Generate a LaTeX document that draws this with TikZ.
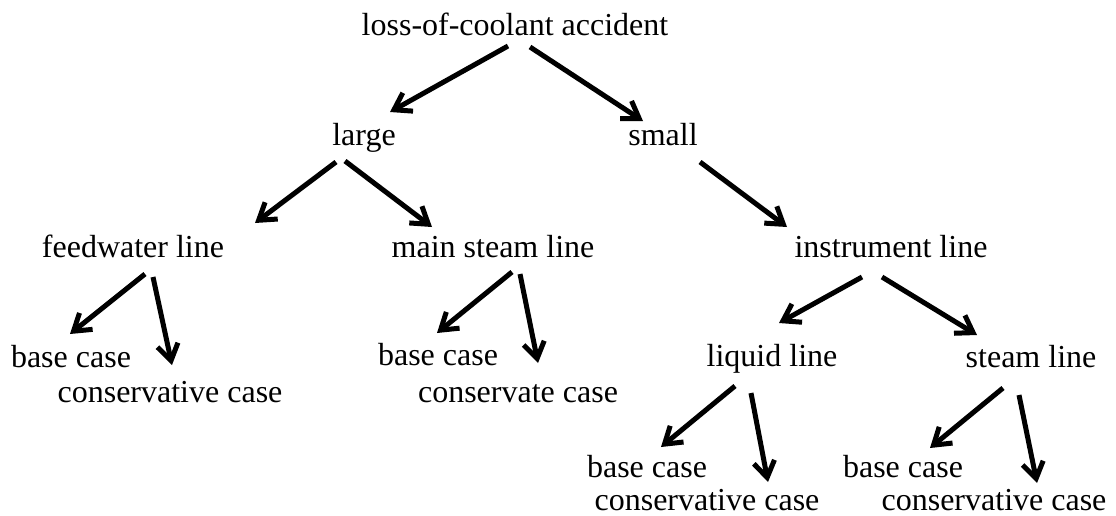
\documentclass[tikz,border=0pt]{standalone}
\usepackage{fontspec}
\setmainfont{Liberation Serif}
\usetikzlibrary{calc,arrows.meta}
\tikzset{
  label text/.style={anchor=base,inner sep=0pt,font=\fontsize{32}{38}\selectfont},
  branch/.style={line width=5pt,-{Straight Barb[length=16pt,width=21pt]}}
}

\begin{document}
\begin{tikzpicture}[x=1pt,y=-1pt]
            \useasboundingbox (0,0) rectangle (1116,515);
            % levels of the tree
            \node[label text] (loca) at (515,35) {loss-of-coolant accident};
            \node[label text] (large) at (364,145) {large};
            \node[label text] (small) at (663,145) {small};
            \node[label text] (feedwater) at (133,257) {feedwater line};
            \node[label text] (mainsteam) at (493,257) {main steam line};
            \node[label text] (instrument) at (891,257) {instrument line};
            \node[label text] (liquid) at (772,366) {liquid line};
            \node[label text] (steam) at (1031,367) {steam line};
            % leaves
            \node[label text] (fwbase) at (71,367) {base case};
            \node[label text] (fwcons) at (170,402) {conservative case};
            \node[label text] (msbase) at (438,365) {base case};
            \node[label text] (mscons) at (518,402) {conservate case};
            \node[label text] (lqbase) at (647,477) {base case};
            \node[label text] (lqcons) at (707,510) {conservative case};
            \node[label text] (stbase) at (903,477) {base case};
            \node[label text] (stcons) at (994,510) {conservative case};
            \foreach \a/\ax/\ay/\b/\bx/\by in {
                loca/-7/11/large/26/-33, loca/15/12/small/-20/-24,
                large/-28/17/feedwater/122/-34, large/-19/16/mainsteam/-61/-30,
                small/37/17/instrument/-104/-30,
                feedwater/12/17/fwbase/-1/-33, feedwater/20/20/fwcons/2/-37,
                mainsteam/19/15/msbase/-1/-32, mainsteam/27/17/mscons/20/-39,
                instrument/-29/20/liquid/7/-43, instrument/-9/20/steam/-54/-32,
                liquid/-37/20/lqbase/14/-30, liquid/-21/27/lqcons/61/-28,
                steam/-28/21/stbase/27/-29, steam/-12/28/stcons/43/-27} {
                \draw[branch] ($ (\a.base) + (\ax,\ay) $) -- ($ (\b.base) + (\bx,\by) $);
            }
        \end{tikzpicture}
\end{document}
